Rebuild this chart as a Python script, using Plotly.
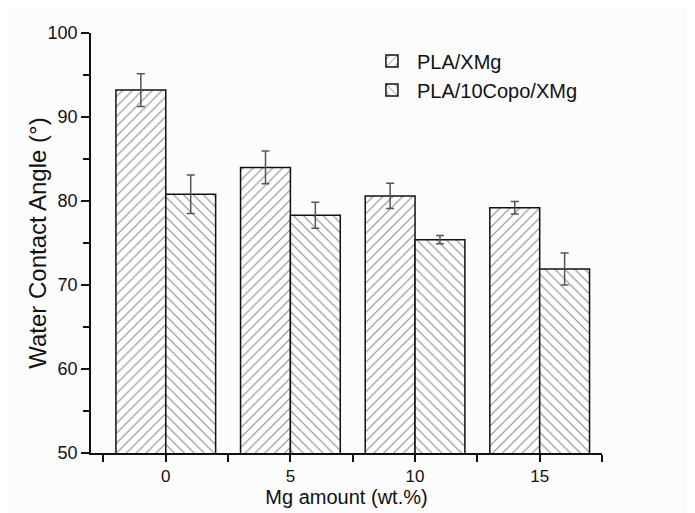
import plotly.graph_objects as go

mg_amount = [0, 5, 10, 15]
pla_xmg = [93.2, 84.0, 80.6, 79.2]
pla_xmg_err = [1.95, 1.95, 1.5, 0.75]
pla_copo_xmg = [80.8, 78.3, 75.4, 71.9]
pla_copo_xmg_err = [2.3, 1.55, 0.5, 1.9]
series_names = ["PLA/XMg", "PLA/10Copo/XMg"]
x_tick_labels = ["0", "5", "10", "15"]
y_tick_values = [50, 60, 70, 80, 90, 100]

FONT = "Liberation Sans, Arial, sans-serif"

def bar(name, y, err, shape):
    return go.Bar(
        name=name, x=mg_amount, y=y,
        error_y=dict(type="data", array=err, visible=True, color="#555555",
                     thickness=1.5, width=4),
        marker=dict(color="white",
                    line=dict(color="#111111", width=1.5),
                    pattern=dict(shape=shape, fgcolor="#1a1a1a", bgcolor="white",
                                 size=7, solidity=0.17)),
    )

fig = go.Figure([
    bar(series_names[0], pla_xmg, pla_xmg_err, "/"),
    bar(series_names[1], pla_copo_xmg, pla_copo_xmg_err, "\\"),
])

fig.update_layout(
    width=695, height=513,
    margin=dict(l=83, r=101, t=25, b=68),
    paper_bgcolor="#fcfcfc", plot_bgcolor="#fcfcfc",
    barmode="group", bargap=0.2, bargroupgap=0,
    font=dict(family=FONT, color="#111111"),
    showlegend=True,
    legend=dict(x=0.54, y=0.98, xanchor="left", yanchor="top",
                bgcolor="rgba(0,0,0,0)", font=dict(size=20, family=FONT),
                tracegroupgap=0, itemwidth=40),
    xaxis=dict(
        range=[-3, 17.5], tickmode="array", tickvals=mg_amount, ticktext=x_tick_labels,
        ticks="outside", ticklen=7, tickwidth=1.5, tickcolor="#111111",
        showline=True, linecolor="#111111", linewidth=1.5, showgrid=False, zeroline=False,
        tickfont=dict(size=17), mirror=False,
        minor=dict(tickmode="linear", tick0=-2.5, dtick=2.5, ticks="outside", ticklen=7,
                   tickwidth=1.5, tickcolor="#111111", showgrid=False),
        title=dict(text="Mg amount (wt.%)", font=dict(size=20), standoff=2),
    ),
    yaxis=dict(
        range=[50, 100], tickmode="array", tickvals=y_tick_values,
        ticks="outside", ticklen=8, tickwidth=1.5, tickcolor="#111111",
        showline=True, linecolor="#111111", linewidth=1.5, showgrid=False, zeroline=False,
        tickfont=dict(size=18),
        minor=dict(tickmode="linear", tick0=55, dtick=10, ticks="outside", ticklen=6,
                   tickwidth=1.5, tickcolor="#111111", showgrid=False),
    ),
    annotations=[dict(
        text="Water Contact Angle (°)", xref="paper", yref="paper",
        x=-0.106, y=0.5, xanchor="center", yanchor="middle", textangle=-90,
        showarrow=False, font=dict(size=24, family=FONT, color="#111111"),
    )],
)

fig.write_html("out.html")
